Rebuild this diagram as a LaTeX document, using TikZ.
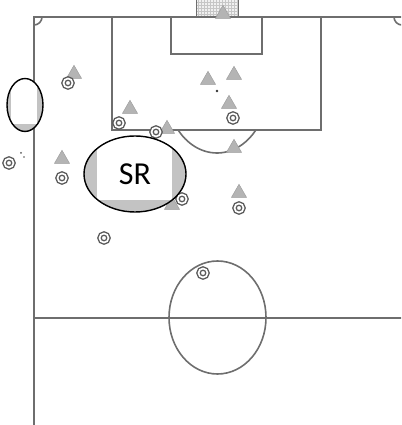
\documentclass[tikz,border=0pt]{standalone}
\usepackage{fontspec}
\setmainfont{Carlito}
\usepackage{tikz}
\usetikzlibrary{shapes.geometric,calc,patterns}
\definecolor{pitchline}{HTML}{6E6E6E}
\definecolor{playergray}{HTML}{B4B4B4}
\definecolor{ringgray}{HTML}{5A5A5A}
\definecolor{zonegray}{HTML}{C3C3C3}
\tikzset{
  pitch/.style={draw=pitchline,line width=1.6pt},
  defender/.style={regular polygon,regular polygon sides=3,minimum size=17.5pt,inner sep=0pt,fill=playergray,draw=playergray!85!black,line width=0.4pt},
  attacker/.style={circle,minimum size=9pt,inner sep=0pt,fill=white,draw=ringgray,line width=1.4pt,double=white,double distance=1.7pt},
  zone/.style n args={3}{ellipse,draw=black,line width=1.4pt,fill=zonegray,inner sep=0pt,
    path picture={\fill[white] ($(path picture bounding box.north west)+(#1,2)$) rectangle ($(path picture bounding box.south east)+(-#2,#3)$);}},
}
\begin{document}
\begin{tikzpicture}[x=1pt,y=1pt]
\useasboundingbox (0,0) rectangle (401,425);
\clip (0,0) rectangle (401,425);

\fill[gray!12] (196,408) rectangle (238,426);
\draw[pitchline,line width=1pt,pattern=grid,pattern color=gray!45] (196,408) rectangle (238,426);
\draw[pitch] (34,0) -- (34,408) -- (402,408);
\draw[pitch] (34,107) -- (402,107);
\draw[pitch] (112,408) |- (321,295) -- (321,408);
\draw[pitch] (171,408) |- (262,371) -- (262,408);
\draw[pitch] (42,408) arc[start angle=0,end angle=-90,radius=8];
\draw[pitch] (394,408) arc[start angle=180,end angle=270,radius=8];
\coordinate (spot) at (217,334);
\fill[black!80] (spot) circle (1.3);
\draw[pitch] ([shift={(219:50 and 62)}]spot) arc[start angle=219,end angle=321,x radius=50,y radius=62];
\draw[pitch] (217.5,107.5) ellipse [x radius=48.5,y radius=56.5];

\node[defender] (d1) at (74,351) {};
\node[defender] (d2) at (130,316) {};
\node[defender] (d3) at (167,296) {};
\node[defender] (d4) at (62,266) {};
\node[defender] (d5) at (172,220) {};
\node[defender] (d6) at (223,411) {};
\node[defender] (d7) at (208,345) {};
\node[defender] (d8) at (234,350) {};
\node[defender] (d9) at (229,321) {};
\node[defender] (d10) at (234,277) {};
\node[defender] (d11) at (239,232) {};

\node[attacker] (a1) at (68,342) {};
\node[attacker] (a2) at (119,302) {};
\node[attacker] (a3) at (156,293) {};
\node[attacker] (a4) at (9,262) {};
\node[attacker] (a5) at (62,247) {};
\node[attacker] (a6) at (182,226) {};
\node[attacker] (a7) at (233,307) {};
\node[attacker] (a8) at (239,217) {};
\node[attacker] (a9) at (104,187) {};
\node[attacker] (a10) at (203,152) {};
\fill[ringgray] (21,272) circle (1) (24,268) circle (0.9);

\node[zone={4}{6}{7},minimum width=36pt,minimum height=53pt] (gap) at (25,320) {};
\node[zone={13}{14}{12},minimum width=102pt,minimum height=76pt,font=\fontsize{32}{36}\selectfont] (sr) at (135,251) {SR};

\end{tikzpicture}
\end{document}
